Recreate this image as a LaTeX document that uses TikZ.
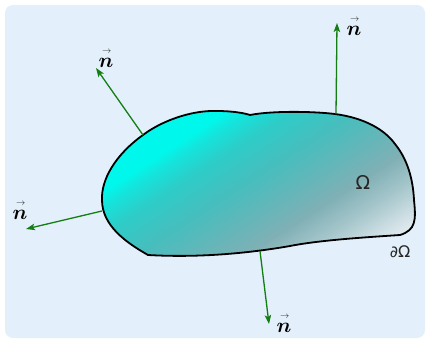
\documentclass[tikz,border=0pt]{standalone}
\usepackage{amsmath,bm}
\usepackage{fontspec}
\newfontfamily\omegafont{DejaVu Sans}
\usetikzlibrary{arrows.meta}
\definecolor{bgblue}{RGB}{227,240,251}
\definecolor{arrowgreen}{RGB}{20,125,20}
\definecolor{sA}{RGB}{0,248,236}
\definecolor{sB}{RGB}{20,228,220}
\definecolor{sC}{RGB}{45,205,200}
\definecolor{sD}{RGB}{70,190,190}
\definecolor{sE}{RGB}{100,182,185}
\definecolor{sF}{RGB}{128,176,181}
\definecolor{sG}{RGB}{165,198,203}
\definecolor{sH}{RGB}{210,225,230}
\definecolor{sI}{RGB}{232,240,244}
\pgfdeclarehorizontalshading{blobshade}{100bp}{color(0bp)=(sA); color(42.3bp)=(sA); color(43.6bp)=(sB); color(45.8bp)=(sC); color(49.3bp)=(sD); color(52.6bp)=(sE); color(55.5bp)=(sF); color(58.3bp)=(sG); color(61.1bp)=(sH); color(62.8bp)=(sI); color(100bp)=(sI)}
\tikzset{
  normal/.style={draw=arrowgreen, line width=1.3pt, -{Stealth[length=9pt,width=6.5pt,inset=2pt]}},
  nlabel/.style={font=\fontsize{20}{22}\selectfont, inner sep=0pt},
  veclabel/.style={font=\fontsize{9}{10}\selectfont, inner sep=0pt, anchor=south, text=black!85},
  omlabel/.style={font=\omegafont\fontsize{19}{21}\selectfont, inner sep=0pt, text=black!85},
  blobpath/.style={line width=1.8pt, draw=black}
}
\def\blob{(102,200) .. controls (101,180) and (115,155) .. (143,135)
  .. controls (160,122) and (190,110) .. (217,111)
  .. controls (232,111) and (244,113) .. (250,115)
  .. controls (270,111) and (310,111) .. (335,114)
  .. controls (365,118) and (385,130) .. (395,144)
  .. controls (408,160) and (413,180) .. (414,200)
  .. controls (416,220) and (416,230) .. (400,235)
  .. controls (370,237) and (320,240) .. (290,246)
  .. controls (250,253) and (200,258) .. (148,255)
  .. controls (125,242) and (102,225) .. cycle}
\begin{document}
\begin{tikzpicture}[x=1pt,y=-1pt]
\useasboundingbox (0,0) rectangle (428,342);
\fill[white] (0,0) rectangle (428,342);
\fill[bgblue, rounded corners=8pt] (5,5) rectangle (425,338);
% region
\begin{scope}
  \clip \blob;
  \begin{scope}[transform canvas={rotate around={-57:(258,182)}}]
    \shade[shading=blobshade] (8,-118) rectangle (508,482);
  \end{scope}
\end{scope}
\draw[blobpath] \blob;
% boundary points
\coordinate (p1) at (143,135);
\coordinate (p2) at (336,114);
\coordinate (p3) at (102,211);
\coordinate (p4) at (260,251);
\coordinate (q1) at (96,68);
\coordinate (q2) at (337,23);
\coordinate (q3) at (26,229);
\coordinate (q4) at (269,324);
\draw[normal] (p1) -- (q1);
\draw[normal] (p2) -- (q2);
\draw[normal] (p3) -- (q3);
\draw[normal] (p4) -- (q4);
\node[nlabel] (n1) at (106,63) {$\bm n$};
\node[nlabel] (n2) at (354,31) {$\bm n$};
\node[nlabel] (n3) at (20,215) {$\bm n$};
\node[nlabel] (n4) at (284,328) {$\bm n$};
\node[veclabel] (a1) at ([xshift=0.8pt,yshift=4pt]n1.north) {$\rightarrow$};
\node[veclabel] (a2) at ([xshift=0.8pt,yshift=4pt]n2.north) {$\rightarrow$};
\node[veclabel] (a3) at ([xshift=0.8pt,yshift=4pt]n3.north) {$\rightarrow$};
\node[veclabel] (a4) at ([xshift=0.8pt,yshift=4pt]n4.north) {$\rightarrow$};
\node[omlabel] (om) at (363,182) {Ω};
\node[omlabel, font=\omegafont\fontsize{16}{18}\selectfont] (dom) at (400,252) {∂Ω};
\end{tikzpicture}
\end{document}
